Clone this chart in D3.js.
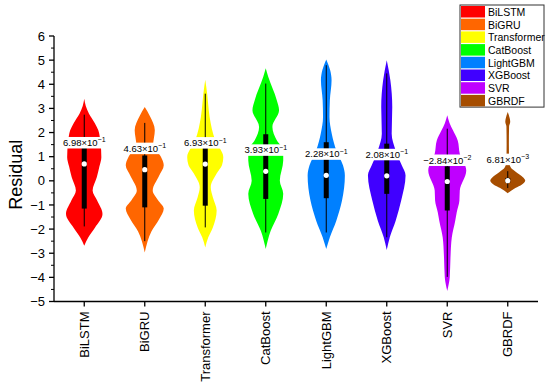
<!DOCTYPE html>
<meta charset="utf-8">
<style>
body{margin:0;background:#fff;}
svg text{font-family:Arial,"Liberation Sans",sans-serif;fill:#000;}
</style>
<svg id="chart" width="550" height="391"></svg>
<script src="https://d3js.org/d3.v7.min.js"></script>
<script>
// models and their colours
const categories = ["BiLSTM","BiGRU","Transformer","CatBoost","LightGBM","XGBoost","SVR","GBRDF"]
const colors = ["#ff0000","#ff6600","#ffff00","#00ff00","#0080ff","#4000ff","#bf00ff","#a64d00"]

// box plot stats
const medians   = [0.698, 0.463, 0.693, 0.393, 0.228, 0.208, -0.0284, 0.00681]
const q3s       = [1.40, 1.05, 1.46, 1.93, 1.60, 1.54, 0.60, 0.12]
const q1s       = [-1.15, -1.10, -1.03, -0.75, -0.72, -0.54, -1.23, -0.08]
const whiskHigh = [2.74, 2.40, 3.61, 4.03, 4.79, 4.45, 2.16, 0.40]
const whiskLow  = [-1.89, -2.50, -1.93, -2.14, -2.14, -2.34, -3.98, -0.30]

// violin outlines: [residual, relative density]
const densities = [
  [[3.4,0],[3.1,0.08],[2.78,0.25],[2.4,0.55],[2.09,0.74],[1.6,0.85],[0.98,0.9],[0.6,0.8],[0.15,0.66],[-0.4,0.44],[-0.82,0.68],[-1.37,0.96],[-1.93,0.57],[-2.35,0.21],[-2.69,0]],
  [[3.06,0],[2.7,0.26],[2.1,0.53],[1.47,0.44],[1.0,0.85],[0.64,1.0],[0.2,0.75],[-0.4,0.42],[-0.8,0.7],[-1.15,1.0],[-1.6,0.75],[-2.1,0.35],[-2.5,0.15],[-2.97,0]],
  [[4.19,0],[3.61,0.1],[3.2,0.15],[2.64,0.23],[1.67,0.53],[0.98,0.95],[0.64,0.88],[0.3,0.6],[-0.27,0.29],[-0.68,0.4],[-1.23,0.6],[-1.93,0.4],[-2.34,0.16],[-2.76,0]],
  [[4.66,0],[4.31,0.13],[3.34,0.58],[2.92,0.7],[2.23,0.35],[1.68,0.58],[1.26,0.92],[0.84,0.92],[0.0,0.74],[-0.54,0.92],[-1.37,0.66],[-2.07,0.26],[-2.83,0]],
  [[5.03,0],[4.6,0.2],[4.17,0.28],[3.34,0.19],[2.64,0.17],[1.95,0.29],[1.26,0.53],[0.64,0.88],[0.22,0.98],[-0.82,0.83],[-1.65,0.53],[-2.34,0.19],[-2.83,0]],
  [[5.0,0],[4.17,0.19],[3.06,0.29],[1.95,0.26],[1.26,0.47],[0.64,0.79],[0.22,0.99],[-0.82,0.76],[-1.65,0.47],[-2.34,0.16],[-2.87,0]],
  [[2.72,0],[2.4,0.12],[2.09,0.3],[1.67,0.55],[1.12,0.66],[0.43,1.0],[-0.4,0.66],[-0.82,0.64],[-1.3,0.5],[-1.65,0.42],[-2.34,0.24],[-3.18,0.17],[-4.0,0.13],[-4.56,0]],
  [[2.85,0],[2.6,0.1],[2.45,0.13],[2.25,0.07],[1.5,0.06],[0.8,0.07],[0.55,0.16],[0.36,0.45],[0.15,0.8],[0.01,0.92],[-0.15,0.75],[-0.3,0.4],[-0.51,0]]
]

const yTicks = d3.range(-5, 7)
const yMinor = d3.range(-4.5, 6, 1)

const svg = d3.select('#chart')
const mLeft = 54, mRight = 538, mTop = 36, mBottom = 301.5

const x = d3.scaleBand().domain(categories).range([mLeft, mRight])
const y = d3.scaleLinear().domain([-5, 6]).range([mBottom, mTop])
const w = d3.scaleLinear().domain([0, 1]).range([0, 19])
const cx = d => x(d) + x.bandwidth() / 2

// violins
const gV = svg.append('g')
categories.forEach((c, i) => {
  const area = d3.area()
    .curve(d3.curveMonotoneY)
    .y(d => y(d[0]))
    .x0(d => cx(c) - w(d[1]))
    .x1(d => cx(c) + w(d[1]))
  gV.append('path').attr('d', area(densities[i])).attr('fill', colors[i])
})

// whiskers, boxes, median dots
categories.forEach((c, i) => {
  const g = svg.append('g')
  g.append('line')
    .attr('x1', cx(c)).attr('x2', cx(c))
    .attr('y1', y(whiskHigh[i])).attr('y2', y(whiskLow[i]))
    .attr('stroke', '#000').attr('stroke-width', 1)
  g.append('rect')
    .attr('x', cx(c) - 2.5).attr('width', 5)
    .attr('y', y(q3s[i])).attr('height', y(q1s[i]) - y(q3s[i]))
    .attr('fill', '#000')
  g.append('circle')
    .attr('cx', cx(c)).attr('cy', y(medians[i])).attr('r', 2.6)
    .attr('fill', '#fff')
})

// median labels like 6.98x10^-1
function sci(v) {
  const e = Math.floor(Math.log10(Math.abs(v)))
  const m = v / Math.pow(10, e)
  const mant = (m < 0 ? '\u2212' : '') + Math.abs(m).toFixed(2) + '\u00d710'
  const exp = (e < 0 ? '\u2212' : '') + Math.abs(e)
  return [mant, exp]
}
categories.forEach((c, i) => {
  const g = svg.append('g')
  const [mant, exp] = sci(medians[i])
  const t = g.append('text')
    .attr('x', cx(c)).attr('y', y(medians[i]) - 18)
    .attr('text-anchor', 'middle')
    .style('font-size', '9.5px')
  t.append('tspan').text(mant)
  t.append('tspan').attr('dy', -3.5).style('font-size', '7px').text(exp)
  const bb = t.node().getBBox()
  g.insert('rect', 'text')
    .attr('x', bb.x - 1).attr('y', bb.y + 0.5)
    .attr('width', bb.width + 2).attr('height', bb.height)
    .attr('fill', '#fff')
})

// y axis
const yAxis = svg.append('g').attr('transform', `translate(${mLeft},0)`)
yAxis.append('line').attr('x1', 0).attr('x2', 0).attr('y1', mTop).attr('y2', mBottom)
  .attr('stroke', '#000').attr('stroke-width', 1.3)
yAxis.selectAll('line.major').data(yTicks).join('line').attr('class', 'major')
  .attr('x1', -5).attr('x2', 0).attr('y1', d => y(d)).attr('y2', d => y(d))
  .attr('stroke', '#000').attr('stroke-width', 1.3)
yAxis.selectAll('line.minor').data(yMinor).join('line').attr('class', 'minor')
  .attr('x1', -3).attr('x2', 0).attr('y1', d => y(d)).attr('y2', d => y(d))
  .attr('stroke', '#000').attr('stroke-width', 1)
yAxis.selectAll('text').data(yTicks).join('text')
  .attr('x', -9).attr('y', d => y(d)).attr('dy', '0.36em')
  .attr('text-anchor', 'end').style('font-size', '13px')
  .text(d => d < 0 ? '\u2212' + Math.abs(d) : d)
svg.append('text')
  .attr('transform', `translate(22,${(mTop + mBottom) / 2 + 6}) rotate(-90)`)
  .attr('text-anchor', 'middle').style('font-size', '18px')
  .text('Residual')

// x axis
const xAxis = svg.append('g').attr('transform', `translate(0,${mBottom})`)
xAxis.append('line').attr('x1', mLeft).attr('x2', mRight).attr('y1', 0).attr('y2', 0)
  .attr('stroke', '#000').attr('stroke-width', 1.3)
xAxis.selectAll('line.tick').data(categories).join('line').attr('class', 'tick')
  .attr('x1', cx).attr('x2', cx).attr('y1', 0).attr('y2', 5)
  .attr('stroke', '#000').attr('stroke-width', 1.3)
xAxis.selectAll('text').data(categories).join('text')
  .attr('transform', d => `translate(${cx(d) + 4.5},10) rotate(-90)`)
  .attr('text-anchor', 'end').style('font-size', '13px')
  .text(d => d)

// legend
const lg = svg.append('g').attr('transform', 'translate(460,5)')
const rowH = 12.7
lg.append('rect').attr('width', 84).attr('height', rowH * categories.length + 0.5)
  .attr('fill', '#fff').attr('stroke', '#333').attr('stroke-width', 1)
categories.forEach((c, i) => {
  lg.append('rect').attr('x', 1).attr('y', i * rowH + 1)
    .attr('width', 24).attr('height', rowH - 1.2).attr('fill', colors[i])
  lg.append('text').attr('x', 28).attr('y', i * rowH + rowH / 2 + 0.8)
    .attr('dy', '0.35em').style('font-size', '10.5px').text(c)
})
</script>
